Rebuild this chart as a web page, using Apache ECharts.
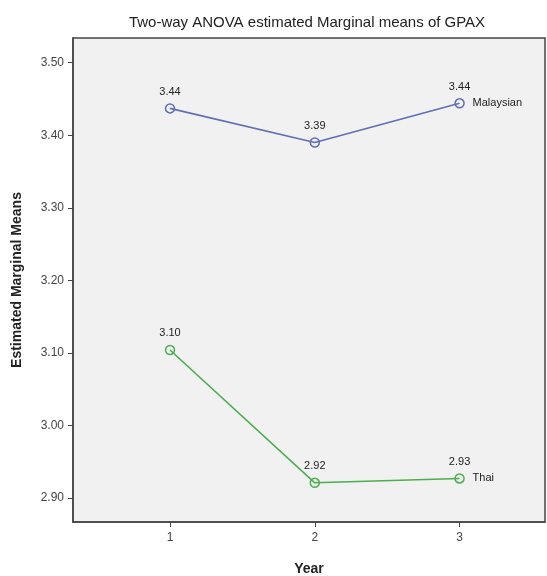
<!DOCTYPE html>
<html>
<head>
<meta charset="utf-8">
<script src="https://cdn.jsdelivr.net/npm/echarts@6/dist/echarts.min.js"></script>
<style>
html,body{margin:0;padding:0;background:#fff;}
#c{width:547px;height:576px;}
</style>
</head>
<body>
<div id="c"></div>
<script>
var years = [1, 2, 3];
var yearLabels = ['1', '2', '3'];
var malaysian = [3.437, 3.390, 3.444];
var thai = [3.104, 2.921, 2.927];
var yTicks = [2.9, 3.0, 3.1, 3.2, 3.3, 3.4, 3.5];
var seriesNames = ['Malaysian', 'Thai'];

function pairs(xs, ys) { return xs.map(function (x, i) { return [x, ys[i]]; }); }

var chart = echarts.init(document.getElementById('c'));
var font = 'Liberation Sans, Arial, sans-serif';
function mk(name, data, color) {
  return {
    name: name,
    type: 'line',
    data: pairs(years, data),
    symbol: 'circle',
    symbolSize: 9,
    showSymbol: true,
    lineStyle: { color: color, width: 1.6 },
    itemStyle: { color: 'rgba(0,0,0,0)', borderColor: color, borderWidth: 1.5 },
    label: {
      show: true, position: 'top', distance: 6,
      formatter: function (p) { return p.value[1].toFixed(2); },
      fontFamily: font, fontSize: 11, color: '#222'
    },
    endLabel: {
      show: true, formatter: name, distance: 13,
      fontFamily: font, fontSize: 11, color: '#222'
    },
    emphasis: { disabled: true },
    animation: false
  };
}
chart.setOption({
  backgroundColor: '#ffffff',
  animation: false,
  title: {
    text: 'Two-way ANOVA estimated Marginal means of GPAX',
    left: 302, top: 10, textAlign: 'center',
    textStyle: { fontFamily: font, fontSize: 15, fontWeight: 'normal', color: '#222' }
  },
  grid: {
    left: 73, top: 38, right: 2, bottom: 54,
    containLabel: false, outerBoundsMode: 'none',
    show: true, backgroundColor: '#f1f1f1', borderColor: '#444', borderWidth: 1.5
  },
  xAxis: {
    type: 'value', min: 0.33, max: 3.59,
    name: 'Year', nameLocation: 'middle', nameGap: 40,
    nameTextStyle: { fontFamily: font, fontSize: 14, fontWeight: 'bold', color: '#222' },
    axisLine: { show: true, lineStyle: { color: '#444', width: 1.5 } },
    axisTick: { show: true, length: 5, lineStyle: { color: '#444' }, customValues: years },
    axisLabel: { fontFamily: font, fontSize: 12, color: '#444', margin: 10, customValues: years,
      formatter: function (v) { return yearLabels[years.indexOf(v)]; } },
    splitLine: { show: false }
  },
  yAxis: {
    type: 'value', min: 2.867, max: 3.534,
    name: 'Estimated Marginal Means', nameLocation: 'middle', nameGap: 49,
    nameTextStyle: { fontFamily: font, fontSize: 14, fontWeight: 'bold', color: '#222' },
    axisLine: { show: true, lineStyle: { color: '#444', width: 1.5 } },
    axisTick: { show: true, length: 5, lineStyle: { color: '#444' }, customValues: yTicks },
    axisLabel: { fontFamily: font, fontSize: 12, color: '#444', margin: 9, customValues: yTicks,
      formatter: function (v) { return v.toFixed(2); } },
    splitLine: { show: false }
  },
  series: [
    mk(seriesNames[0], malaysian, '#5e6fb4'),
    mk(seriesNames[1], thai, '#4cae4c')
  ]
});
</script>
</body>
</html>
